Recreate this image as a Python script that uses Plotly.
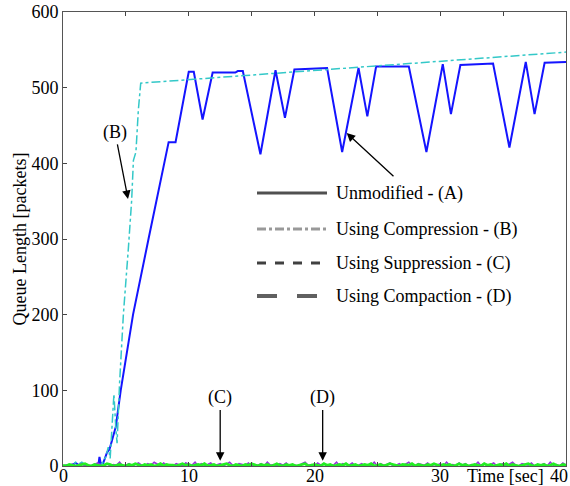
import numpy as np
import plotly.graph_objects as go

# ---- data ----
t_a = [0, 0.8, 1.0, 1.3, 1.6, 2.0, 2.8, 2.9, 3.0, 3.2, 3.5, 3.7, 3.9, 4.2, 4.59, 5.57, 6.8, 8.4, 8.95,
       10.0, 10.4, 11.1, 11.9, 13.7, 13.9, 14.3, 15.7, 16.9, 17.65, 18.4, 21.0, 22.2, 23.5, 24.2, 24.9,
       27.5, 28.9, 30.2, 30.85, 31.6, 34.2, 35.5, 36.8, 37.5, 38.3, 40]
q_a = [0, 2, 4, 1, 3, 0, 0, 12, 3, 4, 18, 22, 34, 52, 100, 200, 300, 428, 428,
       521, 521, 458, 520, 520, 522, 522, 412, 523, 460, 524, 526, 415, 526, 462, 528,
       528, 415, 531, 465, 530, 532, 421, 534, 465, 533, 534]

t_b = [0, 0.8, 1.0, 1.3, 1.5, 1.8, 2.8, 3.1, 3.4, 3.6, 3.75, 3.9, 4.05, 4.2, 4.3, 4.5, 4.8,
       5.2, 5.46, 5.6, 5.8, 5.99, 6.18, 40]
q_b = [0, 1, 5, 3, 5, 1, 0, 3, 12, 25, 10, 60, 95, 50, 30, 110, 200,
       288, 351, 404, 415, 470, 506, 547]

t_cd = list(np.linspace(0, 40, 161))
q_c = [0,1,0,2,0,1,3,0,1,0,2,4,1,0,3,0,2,1,5,0,
       1,3,0,2,4,1,0,3,1,5,2,0,4,1,2,0,3,1,0,4,
       2,1,5,0,3,1,2,4,0,1,3,0,2,5,1,0,3,2,1,4,
       0,2,1,3,0,5,1,2,0,3,1,4,0,2,1,0,3,5,1,2,
       0,4,1,3,0,2,1,5,0,3,2,1,4,0,1,3,0,2,1,5,
       0,3,1,2,4,0,1,3,0,2,5,1,0,3,2,1,4,0,2,1,
       3,0,5,1,2,0,4,1,3,0,2,1,5,0,3,1,2,4,0,1,
       3,0,2,5,1,0,3,2,1,4,0,2,1,3,0,5,1,2,0,4,
       1]
q_d = [1,0,2,1,0,1,2,3,1,0,2,1,0,1,3,2,0,1,2,1,
       0,2,1,3,1,0,2,1,2,0,1,3,0,2,1,1,0,2,3,1,
       2,0,1,2,1,3,0,1,2,0,1,2,3,1,0,2,1,0,2,1,
       3,1,0,2,1,2,0,1,3,1,0,2,1,2,0,1,2,3,0,1,
       2,1,0,3,1,2,0,1,2,1,3,0,1,2,0,1,2,1,3,0,
       1,2,0,1,3,2,1,0,2,1,1,3,0,2,1,0,2,1,3,1,
       0,2,1,2,0,1,3,1,2,0,1,2,1,0,3,1,2,0,1,2,
       1,3,0,2,1,0,1,2,3,1,0,2,1,2,0,1,3,1,0,2,
       1]

legend_labels = ["Unmodified - (A)", "Using Compression - (B)",
                 "Using Suppression - (C)", "Using Compaction - (D)"]
x_tickvals = [0, 5, 10, 15, 20, 25, 30, 35]
x_labels = ["0", "10", "20", "30"]
x_label_pos = [0, 10, 20, 30]
y_tickvals = [0, 100, 200, 300, 400, 500, 600]

FONT = "Liberation Serif"

W, H = 570, 486
L, R, T, B = 63, 566, 12, 466   # plot area in screen pixels

fig = go.Figure()
fig.add_trace(go.Scatter(x=t_a, y=q_a, mode="lines", line=dict(color="#1414ff", width=2), showlegend=False))
fig.add_trace(go.Scatter(x=t_b, y=q_b, mode="lines", line=dict(color="#33c8c8", width=1.5, dash="dashdot"), showlegend=False))
fig.add_trace(go.Scatter(x=t_cd, y=q_c, mode="lines", line=dict(color="#9933dd", width=1.6), showlegend=False))
fig.add_trace(go.Scatter(x=t_cd, y=q_d, mode="lines", line=dict(color="#22ee22", width=2.8), showlegend=False))

def px(xp): return (xp - L) / (R - L)
def py(yp): return (B - yp) / (B - T)

leg_y = [193, 229, 263, 296]
leg_styles = [dict(color="#505050", width=3, dash="solid"),
              dict(color="#999999", width=3, dash="dashdot"),
              dict(color="#404040", width=3, dash="dash"),
              dict(color="#606060", width=4, dash="longdash")]
for lab, yy, st in zip(legend_labels, leg_y, leg_styles):
    fig.add_shape(type="line", xref="paper", yref="paper", x0=px(257), x1=px(327), y0=py(yy), y1=py(yy), line=st)
    fig.add_annotation(xref="paper", yref="paper", x=px(334), y=py(yy), text=lab, showarrow=False,
                       xanchor="left", yanchor="middle", font=dict(family=FONT, size=18, color="black"))

arrow_kw = dict(showarrow=True, arrowhead=2, arrowsize=1.3, arrowwidth=1.3, arrowcolor="black",
                axref="x", ayref="y", font=dict(family=FONT, size=18, color="black"))
fig.add_annotation(x=5.17, y=353, ax=4.14, ay=441, text="(B)", **arrow_kw)
fig.add_annotation(x=22.56, y=440, ax=26.4, ay=381, text="", **arrow_kw)
fig.add_annotation(x=12.5, y=7, ax=12.5, ay=90, text="(C)", **arrow_kw)
fig.add_annotation(x=20.65, y=7, ax=20.65, ay=90, text="(D)", **arrow_kw)

for lab, xv in zip(x_labels, x_label_pos):
    fig.add_annotation(xref="x", yref="paper", x=xv, y=py(476), text=lab, showarrow=False,
                       xanchor="center", yanchor="middle", font=dict(family=FONT, size=18, color="black"))
fig.add_annotation(xref="paper", yref="paper", x=px(505), y=py(476), text="Time [sec]", showarrow=False,
                   xanchor="center", yanchor="middle", font=dict(family=FONT, size=18, color="black"))
fig.add_annotation(xref="paper", yref="paper", x=px(559), y=py(476), text="40", showarrow=False,
                   xanchor="center", yanchor="middle", font=dict(family=FONT, size=18, color="black"))

fig.update_layout(
    width=W, height=H,
    margin=dict(l=L, r=W - R, t=T, b=H - B, autoexpand=False),
    plot_bgcolor="white", paper_bgcolor="white",
    font=dict(family=FONT, size=18, color="black"),
)
fig.update_xaxes(range=[0, 40], tickvals=x_tickvals, showticklabels=False, ticks="inside", ticklen=4,
                 tickcolor="#444", showline=True, linecolor="#555", linewidth=1, mirror="ticks",
                 showgrid=False, zeroline=False, automargin=False)
fig.update_yaxes(range=[0, 600], tickvals=y_tickvals, ticks="inside", ticklen=4, tickcolor="#444",
                 showline=True, linecolor="#555", linewidth=1, mirror=True, showgrid=False, zeroline=False,
                 automargin=False,
                 title=dict(text="Queue Length [packets]", standoff=0, font=dict(family=FONT, size=18)))

fig.write_html("out.html", config={"displayModeBar": False},
               post_script="document.body.style.margin='0px';document.body.style.overflow='hidden';")
